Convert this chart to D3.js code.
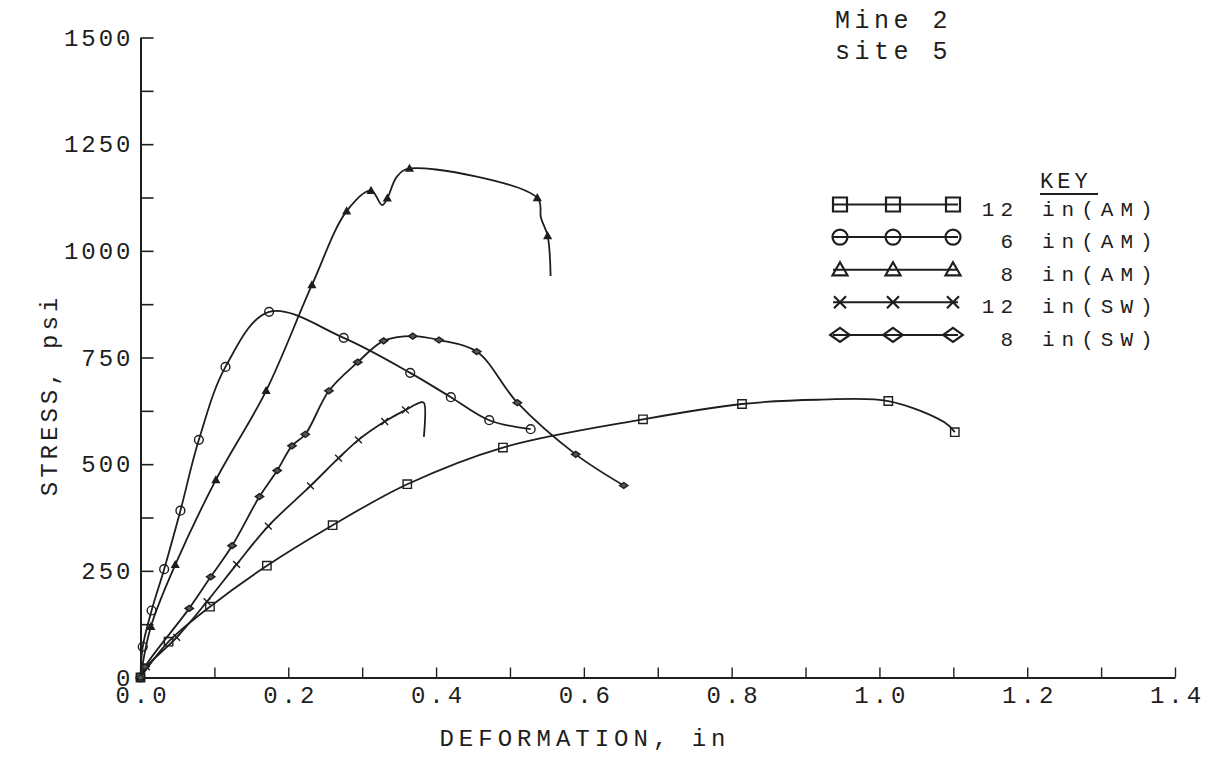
<!DOCTYPE html>
<html><head><meta charset="utf-8">
<script src="https://cdn.jsdelivr.net/npm/d3@7/dist/d3.min.js"></script>
<style>
body{margin:0;background:#fff}
svg{display:block}
text{font-family:"Liberation Mono","Courier New",monospace;fill:#1e1e1e}
</style>
</head><body>
<svg id="chart" width="1216" height="759"></svg>
<script>
// ---------- data ----------
const xTickValues = [0,0.1,0.2,0.3,0.4,0.5,0.6,0.7,0.8,0.9,1.0,1.1,1.2,1.3,1.4];
const xLabelValues = [0,0.2,0.4,0.6,0.8,1.0,1.2,1.4];
const xTickLabels = ["0.0","0.2","0.4","0.6","0.8","1.0","1.2","1.4"];
const yTickValues = [0,125,250,375,500,625,750,875,1000,1125,1250,1375,1500];
const yLabelValues = [0,250,500,750,1000,1250,1500];
const yTickLabels = ["0","250","500","750","1000","1250","1500"];
const seriesNames = ["12 in(AM)","6 in(AM)","8 in(AM)","12 in(SW)","8 in(SW)"];
const seriesNums = ["12","6","8","12","8"];
const seriesUnits = ["in(AM)","in(AM)","in(AM)","in(SW)","in(SW)"];
const titleLines = ["Mine 2","site 5"];
const keyTitle = "KEY";
const xTitle = "DEFORMATION, in";
const yTitle = "STRESS, psi";

// [deformation (in), stress (psi), marked point (1) or line bend (0)]
const am12 = [[0,0,1],[0.038,84,1],[0.094,166,1],[0.171,262,1],[0.260,357,1],[0.361,453,1],
  [0.4905,539,1],[0.680,605,1],[0.814,641,1],[0.917,651,0],[1.012,648,1],[1.088,598,0],[1.102,575,1]];
const am6 = [[0,0,1],[0.003,72,1],[0.015,157,1],[0.032,254,1],[0.054,391,1],[0.079,557,1],
  [0.115,728,1],[0.174,857,1],[0.275,796,1],[0.365,714,1],[0.420,657,1],[0.472,603,1],[0.528,582,1]];
const am8 = [[0,0,1],[0.014,119,1],[0.047,264,1],[0.102,463,1],[0.170,672,1],[0.232,920,1],
  [0.279,1093,1],[0.312,1141,1],[0.327,1107,0],[0.334,1123,1],[0.347,1174,0],[0.364,1193,1],
  [0.537,1124,1],[0.542,1077,0],[0.551,1035,1],[0.555,941,0]];
const sw12 = [[0,0,1],[0.008,25,1],[0.049,94,1],[0.090,178,1],[0.130,265,1],[0.173,355,1],
  [0.230,449,1],[0.268,514,1],[0.295,557,1],[0.3305,600,1],[0.3586,627,1],[0.379,645,0],
  [0.3835,644,0],[0.3835,564,0]];
const sw8 = [[0,0,1],[0.006,25,1],[0.066,162,1],[0.095,236,1],[0.124,309,1],[0.161,424,1],
  [0.185,485,1],[0.205,543,1],[0.223,570,1],[0.255,672,1],[0.294,739,1],[0.329,789,1],
  [0.3685,800,1],[0.404,791,1],[0.455,764,1],[0.510,644,1],[0.589,523,1],[0.654,450,1]];

const seriesData = [am12, am6, am8, sw12, sw8];
const seriesShapes = ["square","circle","triangle","times","diamond"];

// ---------- drawing ----------
const INK = "#1e1e1e";
const svg = d3.select("#chart");
const x = d3.scaleLinear().domain([0,1.4]).range([140.5,1175]);
const y = d3.scaleLinear().domain([0,1500]).range([677.5,37.5]);

function shapePath(type, r){
  const p = d3.path();
  if(type==="square"){ p.rect(-r,-r,2*r,2*r); }
  else if(type==="circle"){ p.moveTo(r,0); p.arc(0,0,r,0,2*Math.PI); p.closePath(); }
  else if(type==="triangle"){ p.moveTo(0,-r); p.lineTo(r*1.0,r*0.75); p.lineTo(-r*1.0,r*0.75); p.closePath(); }
  else if(type==="times"){ p.moveTo(-r,-r); p.lineTo(r,r); p.moveTo(-r,r); p.lineTo(r,-r); }
  else if(type==="diamond"){ p.moveTo(-1.4*r,0); p.lineTo(0,-r); p.lineTo(1.4*r,0); p.lineTo(0,r); p.closePath(); }
  return p.toString();
}

// y axis
const yAxis = d3.axisLeft(y).tickValues(yTickValues).tickSize(-13).tickSizeOuter(0).tickPadding(10)
  .tickFormat(v => { const i = yLabelValues.indexOf(v); return i>=0 ? yTickLabels[i] : ""; });
const gy = svg.append("g").attr("transform","translate(140.5,0)").call(yAxis);
gy.select(".domain").attr("stroke",INK).attr("stroke-width",2);
gy.selectAll(".tick line").attr("stroke",INK).attr("stroke-width",1.6);
gy.selectAll(".tick text").attr("fill",INK).style("font-size","24px").style("letter-spacing","3px")
  .attr("dx","3px").style("font-family","'Liberation Mono',monospace");

// x axis
const xAxis = d3.axisBottom(x).tickValues(xTickValues).tickSize(-10).tickSizeOuter(0).tickPadding(8)
  .tickFormat(v => { const i = xLabelValues.findIndex(u => Math.abs(u-v)<1e-9); return i>=0 ? xTickLabels[i] : ""; });
const gx = svg.append("g").attr("transform","translate(0,677.5)").call(xAxis);
gx.select(".domain").attr("stroke",INK).attr("stroke-width",2.2);
gx.selectAll(".tick line").attr("stroke",INK).attr("stroke-width",1.4);
gx.selectAll(".tick text").attr("fill",INK).style("font-size","24px").style("letter-spacing","4px")
  .attr("dx","2px").style("font-family","'Liberation Mono',monospace");

// series lines
const line = d3.line().x(d=>x(d[0])).y(d=>y(d[1])).curve(d3.curveCatmullRom.alpha(0.5));
const plot = svg.append("g");
seriesData.forEach((data,i)=>{
  plot.append("path").datum(data).attr("d",line).attr("fill","none")
    .attr("stroke",INK).attr("stroke-width",1.8).attr("stroke-linejoin","round");
});
// markers
const markR = {square:4.2, circle:4.4, triangle:3.4, times:3.4, diamond:3.0};
seriesData.forEach((data,i)=>{
  const shp = seriesShapes[i];
  plot.selectAll(null).data(data.filter(d=>d[2]===1)).enter().append("path")
    .attr("transform",d=>`translate(${x(d[0])},${y(d[1])})`)
    .attr("d",shapePath(shp, markR[shp]))
    .attr("fill", shp==="triangle" ? INK : (shp==="diamond" ? "#555" : "none"))
    .attr("stroke",INK).attr("stroke-width",1.4);
});

// titles
svg.append("text").attr("x",583).attr("y",746).attr("text-anchor","middle").attr("dx","2px")
  .style("font-size","24px").style("letter-spacing","5px").text(xTitle);
svg.append("text").attr("transform","translate(57,395) rotate(-90)").attr("text-anchor","middle")
  .style("font-size","24px").style("letter-spacing","4px").text(yTitle);
titleLines.forEach((t,i)=>{
  svg.append("text").attr("x",835).attr("y",28+i*31).style("font-size","25px")
    .style("letter-spacing","4.5px").text(t);
});

// legend
const legRows = seriesNames.map((n,i)=>204.5 + i*32.6);
svg.append("text").attr("x",1040).attr("y",188).style("font-size","22px").style("letter-spacing","4px").text(keyTitle);
svg.append("line").attr("x1",1040).attr("x2",1098).attr("y1",194).attr("y2",194).attr("stroke",INK).attr("stroke-width",1.8);
const legR = {square:7, circle:7.5, triangle:7.5, times:6, diamond:7};
const legMarkX = [840, 893, 953];
seriesNames.forEach((n,i)=>{
  const ry = legRows[i];
  const shp = seriesShapes[i];
  const g = svg.append("g");
  g.append("line").attr("x1",833).attr("x2",958).attr("y1",ry).attr("y2",ry).attr("stroke",INK).attr("stroke-width",2);
  legMarkX.forEach(mx=>{
    g.append("path").attr("transform",`translate(${mx},${ry})`).attr("d",shapePath(shp, legR[shp]))
      .attr("fill", shp==="times" ? "none" : "#fff").attr("fill-opacity", 0)
      .attr("stroke",INK).attr("stroke-width",2.2);
  });
  g.append("text").attr("x",1013).attr("y",ry+11).attr("text-anchor","end").attr("dx","6px")
    .style("font-size","21px").style("letter-spacing","6px").text(seriesNums[i]);
  g.append("text").attr("x",1042).attr("y",ry+11)
    .style("font-size","21px").style("letter-spacing","7px").text(seriesUnits[i]);
});
</script>
</body></html>
